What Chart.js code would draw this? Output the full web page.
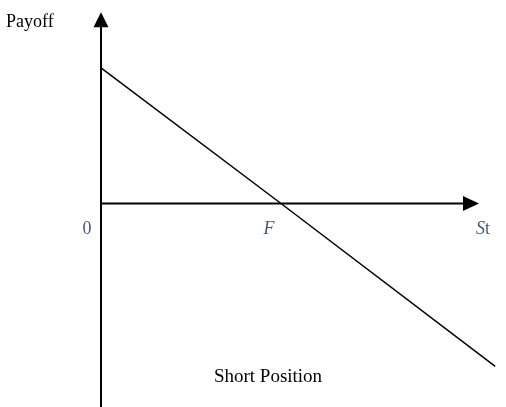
<!DOCTYPE html>
<html>
<head>
<meta charset="utf-8">
<script src="https://cdn.jsdelivr.net/npm/chart.js@4.4.1/dist/chart.umd.min.js"></script>
<style>
  html, body { margin: 0; padding: 0; background: #fff; }
  #wrap { width: 506px; height: 407px; }
</style>
</head>
<body>
<div id="wrap"><canvas id="payoffChart"></canvas></div>
<script>
// short forward payoff: F - St
const strike = 100;
const spotValues = [0, 100, 219];
const payoffValues = [100, 0, -120];

// axis extents (data units)
const xAxisEnd = 210;
const yAxisTop = 141;
const yAxisBottom = -150;

const tickLabels = [
    { x: 0, text: '0' },
    { x: strike, text: 'F' },
    { x: xAxisEnd, text: 'St' }
];
const yTitle = 'Payoff';
const chartTitle = 'Short Position';

const labelColor = '#4a5877';
const serif = '"Liberation Serif", "Times New Roman", serif';

const annotations = {
    id: 'annotations',
    afterDatasetsDraw(chart) {
        const ctx = chart.ctx;
        const xs = chart.scales.x, ys = chart.scales.y;
        const x0 = xs.getPixelForValue(0), y0 = ys.getPixelForValue(0);

        ctx.save();
        ctx.fillStyle = '#000';
        // arrow heads
        const ax = xs.getPixelForValue(xAxisEnd);
        ctx.beginPath();
        ctx.moveTo(ax, y0);
        ctx.lineTo(ax - 16, y0 - 7.5);
        ctx.lineTo(ax - 16, y0 + 7.5);
        ctx.closePath();
        ctx.fill();

        const ay = ys.getPixelForValue(yAxisTop);
        ctx.beginPath();
        ctx.moveTo(x0, ay);
        ctx.lineTo(x0 - 7.5, ay + 15);
        ctx.lineTo(x0 + 7.5, ay + 15);
        ctx.closePath();
        ctx.fill();

        // tick labels
        const ty = y0 + 26;
        ctx.fillStyle = labelColor;
        ctx.textBaseline = 'middle';
        ctx.textAlign = 'center';
        ctx.font = '18px ' + serif;
        ctx.fillText(tickLabels[0].text, x0 - 14, ty);
        ctx.font = 'italic 18px ' + serif;
        ctx.fillText(tickLabels[1].text, xs.getPixelForValue(tickLabels[1].x) - 12, ty);

        // St : italic S, upright t
        const sx = xs.getPixelForValue(tickLabels[2].x) - 3;
        ctx.textAlign = 'left';
        ctx.font = 'italic 18px ' + serif;
        ctx.fillText('S', sx, ty);
        const sw = ctx.measureText('S').width;
        ctx.font = '18px ' + serif;
        ctx.fillText('t', sx + sw, ty);

        // axis title and caption
        ctx.fillStyle = '#000';
        ctx.textAlign = 'left';
        ctx.textBaseline = 'alphabetic';
        ctx.font = '18px ' + serif;
        ctx.fillText(yTitle, 6, 27);
        ctx.textAlign = 'center';
        ctx.font = '19px ' + serif;
        ctx.fillText(chartTitle, 268, 382);
        ctx.restore();
    }
};

const ctx = document.getElementById('payoffChart').getContext('2d');
const myChart = new Chart(ctx, {
    type: 'scatter',
    data: {
        datasets: [
            {
                data: spotValues.map((s, i) => ({ x: s, y: payoffValues[i] })),
                showLine: true,
                borderColor: '#000',
                borderWidth: 1.5,
                pointRadius: 0
            },
            {
                data: [{ x: 0, y: 0 }, { x: xAxisEnd - 8, y: 0 }],
                showLine: true,
                borderColor: '#000',
                borderWidth: 2,
                pointRadius: 0
            },
            {
                data: [{ x: 0, y: yAxisBottom }, { x: 0, y: yAxisTop - 8 }],
                showLine: true,
                borderColor: '#000',
                borderWidth: 2,
                pointRadius: 0
            }
        ]
    },
    options: {
        responsive: true,
        maintainAspectRatio: false,
        animation: false,
        clip: false,
        layout: { padding: { left: 101, right: 0, top: 0, bottom: 0 } },
        plugins: { legend: { display: false }, tooltip: { enabled: false } },
        scales: {
            x: { type: 'linear', display: false, min: 0, max: 225 },
            y: { type: 'linear', display: false, min: -150, max: 150 }
        }
    },
    plugins: [annotations]
});
</script>
</body>
</html>
